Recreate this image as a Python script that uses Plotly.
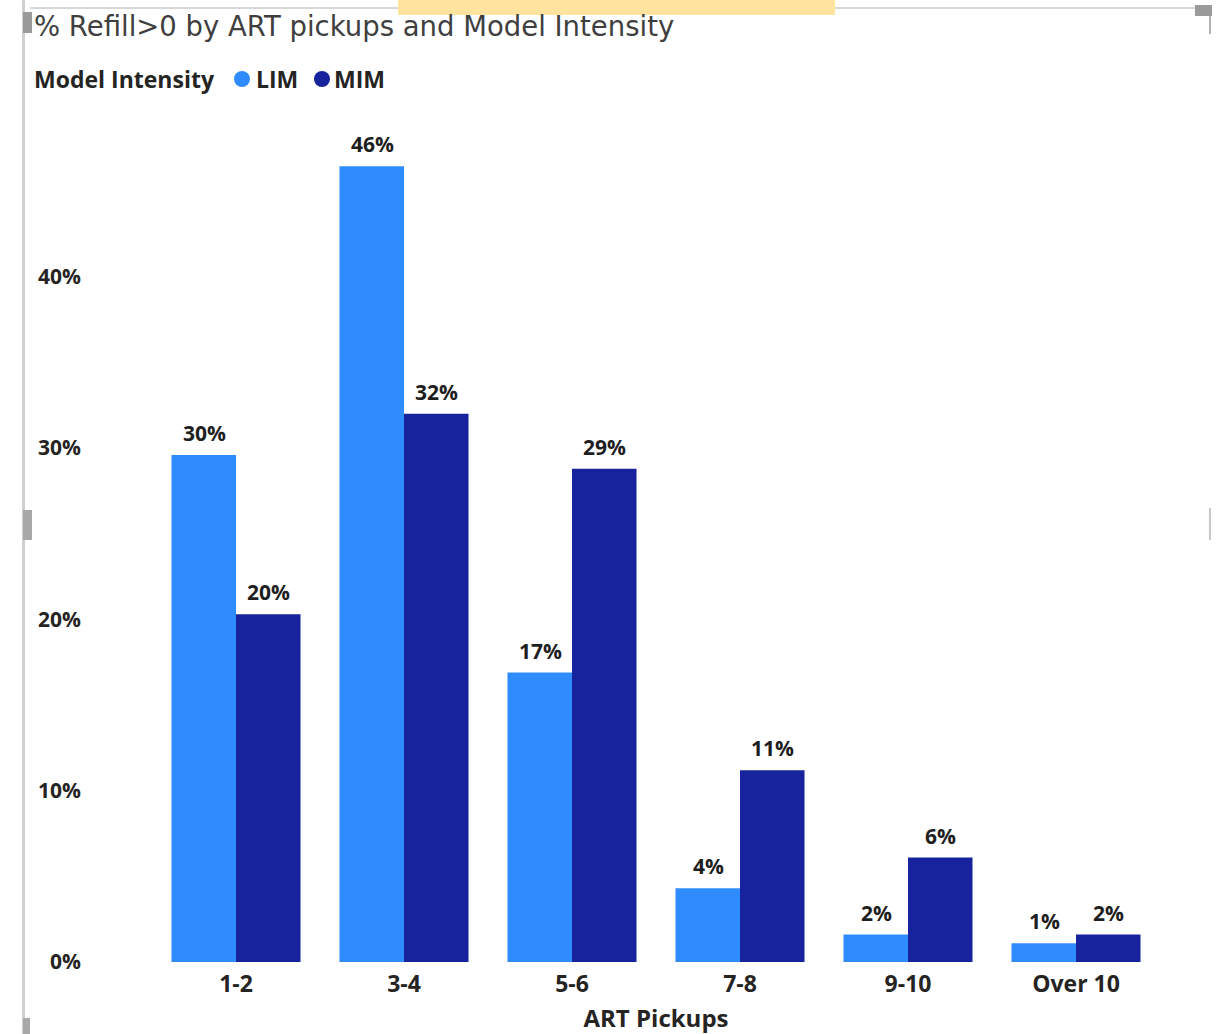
import plotly.graph_objects as go

# ART pickup bands and share of clients with Refill > 0, by model intensity
categories = ["1-2", "3-4", "5-6", "7-8", "9-10", "Over 10"]
lim_values = [0.296, 0.4645, 0.169, 0.043, 0.016, 0.011]
mim_values = [0.203, 0.320, 0.288, 0.112, 0.061, 0.016]
y_tick_values = [0, 0.1, 0.2, 0.3, 0.4]
y_tick_labels = ["0%", "10%", "20%", "30%", "40%"]

W, H = 1223, 1034
ML, MR, MT, MB = 152, 63, 130, 72
PW, PH = W - ML - MR, H - MT - MB

LIM_COLOR = "#2F8CFF"
MIM_COLOR = "#17239C"
FONT = "Open Sans"
TEXT = "#252423"


def px_x(p):
    return (p - ML) / PW


def px_y(p):
    return (H - MB - p) / PH


def bold(s):
    return f"<b>{s}</b>"


x_labels = [bold(c) for c in categories]

fig = go.Figure()
for name, vals, color in (("LIM", lim_values, LIM_COLOR), ("MIM", mim_values, MIM_COLOR)):
    fig.add_trace(go.Bar(
        x=x_labels, y=vals, name=name, marker_color=color,
        marker_line_width=0, showlegend=False,
    ))

shapes = [
    # frame of the visual
    dict(type="line", xref="paper", yref="paper", x0=px_x(30), x1=px_x(1195),
         y0=px_y(8), y1=px_y(8), line=dict(color="#D6D6D6", width=2)),
    dict(type="line", xref="paper", yref="paper", x0=px_x(23.5), x1=px_x(23.5),
         y0=px_y(0), y1=px_y(1034), line=dict(color="#D0D0D0", width=3)),
    # highlight tab above the header
    dict(type="rect", xref="paper", yref="paper", x0=px_x(398), x1=px_x(835),
         y0=px_y(0), y1=px_y(15), line_width=0, fillcolor="#FFE39E"),
    # resize handles
    dict(type="rect", xref="paper", yref="paper", x0=px_x(23), x1=px_x(32),
         y0=px_y(12), y1=px_y(33), line_width=0, fillcolor="#9A9A9A"),
    dict(type="rect", xref="paper", yref="paper", x0=px_x(23), x1=px_x(32),
         y0=px_y(510), y1=px_y(540), line_width=0, fillcolor="#A8A8A8"),
    dict(type="rect", xref="paper", yref="paper", x0=px_x(23), x1=px_x(30),
         y0=px_y(1018), y1=px_y(1034), line_width=0, fillcolor="#A8A8A8"),
    dict(type="rect", xref="paper", yref="paper", x0=px_x(1195), x1=px_x(1212),
         y0=px_y(5), y1=px_y(16), line_width=0, fillcolor="#9A9A9A"),
    dict(type="line", xref="paper", yref="paper", x0=px_x(1210), x1=px_x(1210),
         y0=px_y(16), y1=px_y(34), line=dict(color="#B0B0B0", width=2)),
    dict(type="line", xref="paper", yref="paper", x0=px_x(1210), x1=px_x(1210),
         y0=px_y(508), y1=px_y(540), line=dict(color="#C8C8C8", width=2)),
    # legend swatches
    dict(type="circle", xref="paper", yref="paper", x0=px_x(234), x1=px_x(250),
         y0=px_y(71), y1=px_y(87), line_width=0, fillcolor=LIM_COLOR),
    dict(type="circle", xref="paper", yref="paper", x0=px_x(314), x1=px_x(330),
         y0=px_y(71), y1=px_y(87), line_width=0, fillcolor=MIM_COLOR),
]

annotations = [
    dict(text="% Refill>0 by ART pickups and Model Intensity", xref="paper",
         yref="paper", x=px_x(32), y=px_y(26), xanchor="left", yanchor="middle",
         showarrow=False, font=dict(family="DejaVu Sans", size=27.5, color="#3F3F3F")),
    dict(text="<b>Model Intensity</b>", xref="paper", yref="paper",
         x=px_x(32), y=px_y(79), xanchor="left", yanchor="middle",
         showarrow=False, font=dict(family=FONT, size=23, color=TEXT)),
    dict(text="<b>LIM</b>", xref="paper", yref="paper",
         x=px_x(254), y=px_y(79), xanchor="left", yanchor="middle",
         showarrow=False, font=dict(family=FONT, size=23, color=TEXT)),
    dict(text="<b>MIM</b>", xref="paper", yref="paper",
         x=px_x(332), y=px_y(79), xanchor="left", yanchor="middle",
         showarrow=False, font=dict(family=FONT, size=23, color=TEXT)),
]

# value labels above each bar, taken from the same series values
for vals, shift in ((lim_values, -32), (mim_values, 32)):
    for cat, v in zip(x_labels, vals):
        annotations.append(dict(
            x=cat, y=v, xref="x", yref="y", text=bold(f"{v:.0%}"),
            showarrow=False, xshift=shift, yshift=22, yanchor="middle",
            font=dict(family=FONT, size=21, color="#1E1E1E"),
        ))

fig.update_layout(
    width=W, height=H,
    margin=dict(l=ML, r=MR, t=MT, b=MB, autoexpand=False),
    paper_bgcolor="#FFFFFF", plot_bgcolor="#FFFFFF",
    barmode="group", bargap=0.232, bargroupgap=0,
    shapes=shapes, annotations=annotations,
    font=dict(family=FONT, color=TEXT),
)
fig.update_xaxes(
    showgrid=False, zeroline=False, showline=False, ticks="",
    tickfont=dict(family=FONT, size=23, color=TEXT), ticklabelstandoff=6,
    title=dict(text="<b>ART Pickups</b>", standoff=13,
               font=dict(family=FONT, size=24, color=TEXT)),
)
fig.update_yaxes(
    range=[0, (H - MB - MT) / 1713], showgrid=False, zeroline=False,
    showline=False, ticks="", tickvals=y_tick_values,
    ticktext=[bold(t) for t in y_tick_labels],
    tickfont=dict(family=FONT, size=21, color=TEXT),
    ticklabelstandoff=70,
)

fig.write_html("out.html")
